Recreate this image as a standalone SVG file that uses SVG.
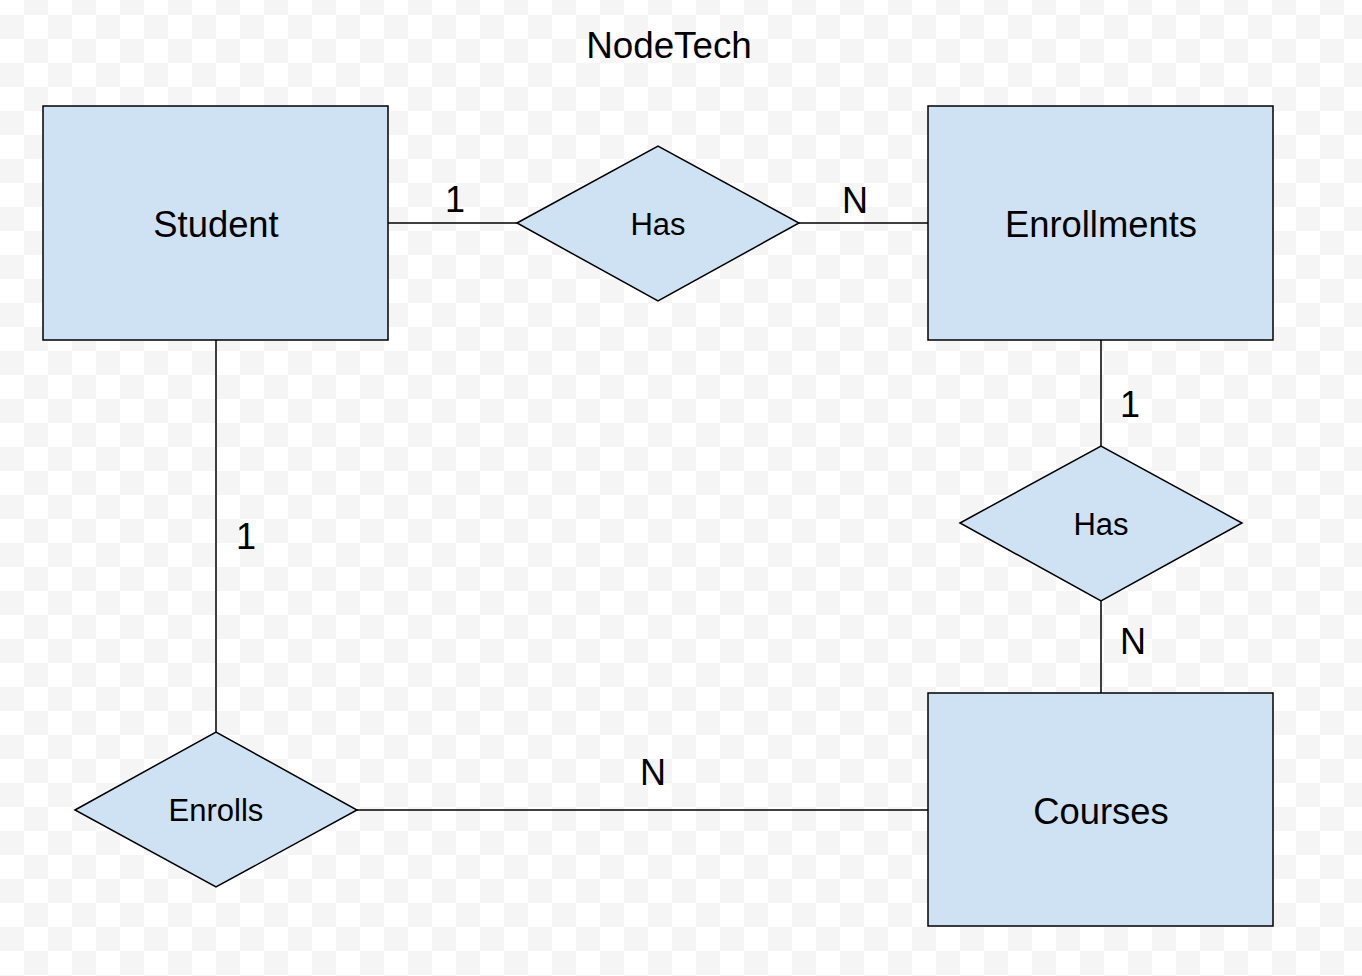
<svg xmlns="http://www.w3.org/2000/svg" width="1362" height="976" viewBox="0 0 1362 976">
<defs>
<pattern id="checker" patternUnits="userSpaceOnUse" x="0" y="-9" width="48" height="48">
<rect x="0" y="0" width="48" height="48" fill="#ffffff"/>
<rect x="24" y="0" width="24" height="24" fill="#f5f5f5"/>
<rect x="0" y="24" width="24" height="24" fill="#f5f5f5"/>
</pattern>
<style>
.shape{fill:#cfe2f3;stroke:#000;stroke-width:1.5}
.line{stroke:#000;stroke-width:1.5;fill:none}
text{font-family:"Liberation Sans",Arial,sans-serif;fill:#000}
.ent{font-size:36.4px;text-anchor:middle}
.rel{font-size:31px;text-anchor:middle}
.lbl{font-size:36px;text-anchor:middle}
.title{font-size:36.8px;text-anchor:middle}
</style>
</defs>
<rect x="0" y="0" width="1362" height="976" fill="url(#checker)"/>
<text class="title" x="669" y="58">NodeTech</text>
<g id="connectors">
<line class="line" x1="388" y1="223" x2="517" y2="223"/>
<line class="line" x1="799" y1="223" x2="928" y2="223"/>
<line class="line" x1="1101" y1="340" x2="1101" y2="446"/>
<line class="line" x1="1101" y1="601" x2="1101" y2="693"/>
<line class="line" x1="216" y1="340" x2="216" y2="732"/>
<line class="line" x1="357" y1="810" x2="928" y2="810"/>
<text class="lbl" x="455" y="212">1</text>
<text class="lbl" x="855" y="213">N</text>
<text class="lbl" x="1130" y="417">1</text>
<text class="lbl" x="1133" y="654">N</text>
<text class="lbl" x="246" y="549">1</text>
<text class="lbl" x="653" y="785">N</text>
</g>
<g id="student">
<rect class="shape" x="43" y="106" width="345" height="234"/>
<text class="ent" x="216" y="237">Student</text>
</g>
<g id="enrollments">
<rect class="shape" x="928" y="106" width="345" height="234"/>
<text class="ent" x="1101" y="237">Enrollments</text>
</g>
<g id="courses">
<rect class="shape" x="928" y="693" width="345" height="233"/>
<text class="ent" x="1101" y="824">Courses</text>
</g>
<g id="has1">
<polygon class="shape" points="517,223 658,146 799,223 658,301"/>
<text class="rel" x="658" y="235">Has</text>
</g>
<g id="has2">
<polygon class="shape" points="960,523 1101,446 1242,523 1101,601"/>
<text class="rel" x="1101" y="535">Has</text>
</g>
<g id="enrolls">
<polygon class="shape" points="75,810 216,732 357,810 216,887"/>
<text class="rel" x="216" y="821">Enrolls</text>
</g>
</svg>
